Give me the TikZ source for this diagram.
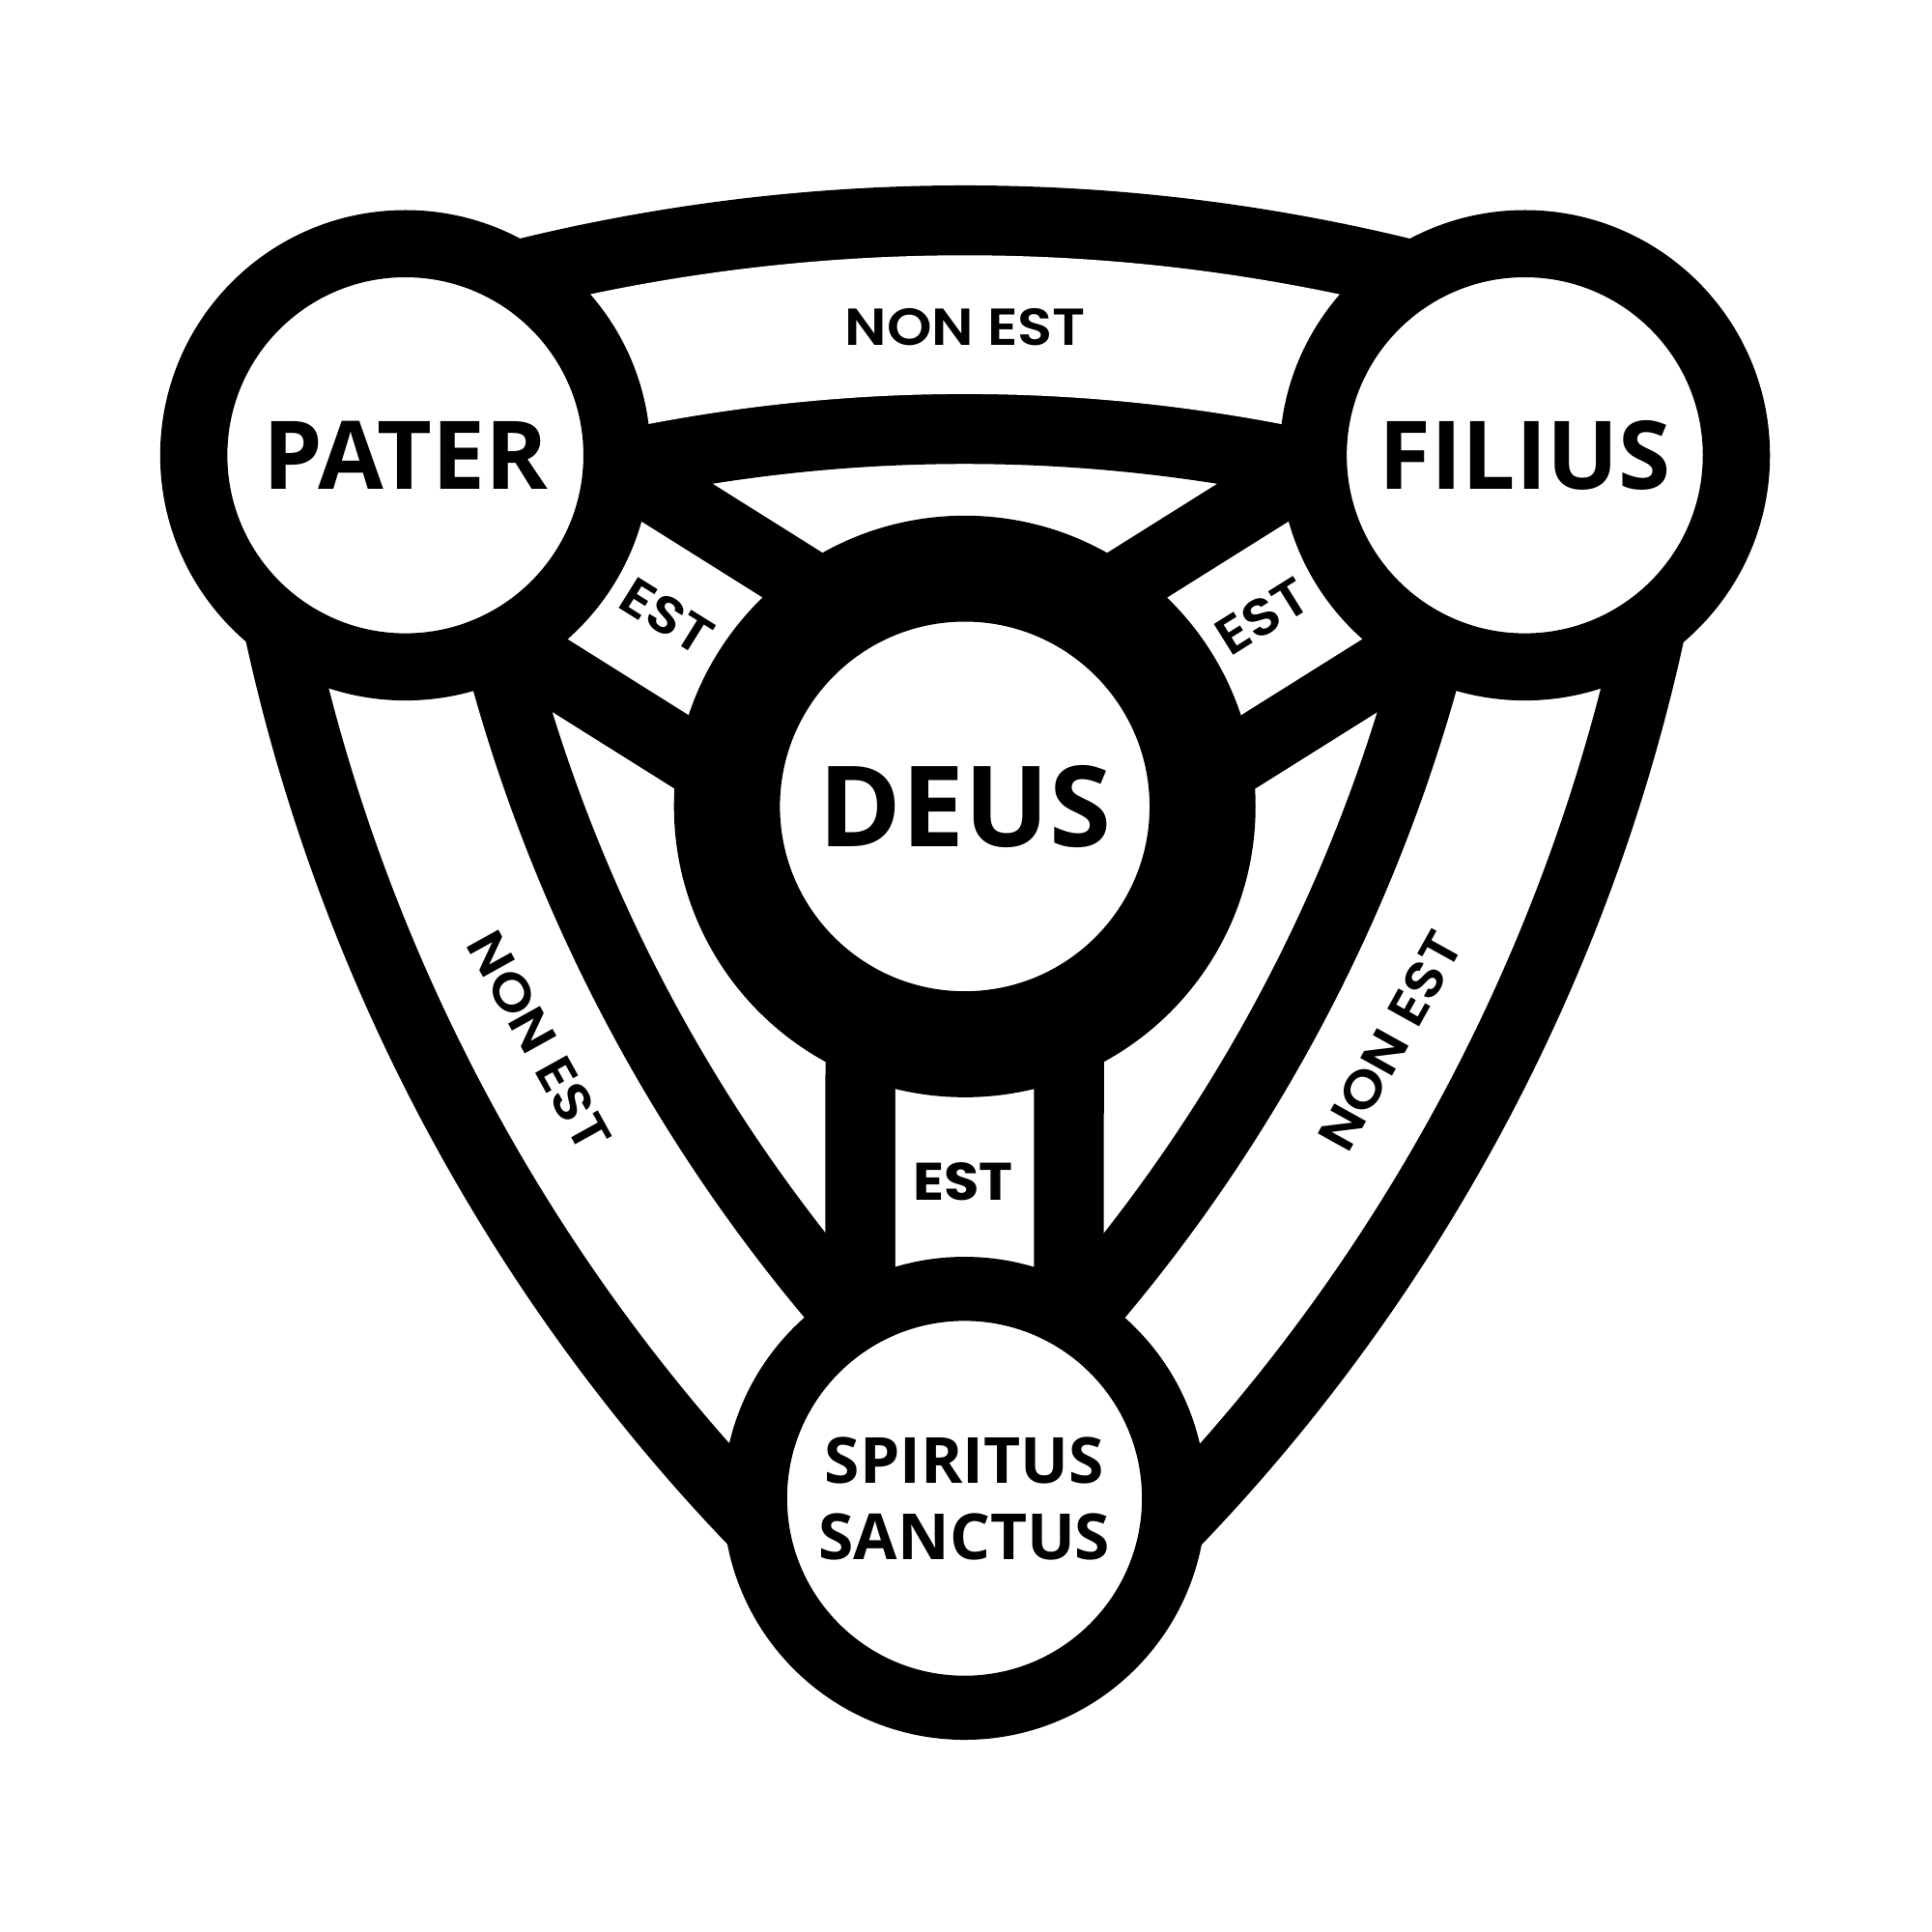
\documentclass[tikz,border=0pt]{standalone}
\usepackage{fontspec}
\newfontfamily\namefont{Open Sans}
\newfontfamily\labfont{Poppins}[UprightFont=* SemiBold, BoldFont=* Bold]
\usetikzlibrary{backgrounds}
\begin{document}
\begin{tikzpicture}[x=0.1mm,y=-0.1mm,
  ring/.style={circle, draw=black, fill=white, inner sep=0pt, align=center},
  bandblack/.style={line width=22.6mm, black},
  bandwhite/.style={line width=11.26mm, white},
  bigname/.style={font=\namefont\bfseries\fontsize{21.9}{24}\selectfont},
  lab/.style={font=\labfont\fontsize{12}{14}\selectfont, inner sep=0pt},
  outerbend/.style={looseness=0.877}]
\useasboundingbox (0,0) rectangle (1568,1568);

% circles (nodes)
\node[ring, minimum size=34.35mm, line width=5.45mm, bigname] (pater) at (329,369.5) {PATER};
\node[ring, minimum size=34.35mm, line width=5.45mm, bigname] (filius) at (1237.5,369.5) {FILIUS};
\node[ring, minimum size=38.6mm, line width=8.6mm, font=\namefont\bfseries\fontsize{25.9}{28}\selectfont] (deus) at (783,654.5) {DEUS};
\node[ring, minimum size=34mm, line width=5.2mm, font=\namefont\bfseries\fontsize{14.7}{17.6}\selectfont] (spiritus) at (782.8,1216) {SPIRITUS\\SANCTUS};

% band end points
\coordinate (pT) at (319.3,341.4);
\coordinate (fT) at (1246.7,341.4);
\coordinate (pL) at (288.8,374.7);
\coordinate (sL) at (751.2,1251.5);
\coordinate (fR) at (1277.2,374.7);
\coordinate (sR) at (814.8,1251.5);

\begin{scope}[on background layer]
  \fill[white] (0,0) rectangle (1568,1568);
  % black bands
  \draw[bandblack] (pT) to[bend left=19.12, outerbend] (fT);
  \draw[bandblack] (pL) to[bend right=20.49, outerbend] (sL);
  \draw[bandblack] (fR) to[bend left=20.49, outerbend] (sR);
  \draw[bandblack] (pater.center) -- (deus.center);
  \draw[bandblack] (filius.center) -- (deus.center);
  \draw[bandblack] (deus.center) -- (spiritus.center);
  % white inner strips
  \draw[bandwhite] (pT) to[bend left=19.12, outerbend] (fT);
  \draw[bandwhite] (pL) to[bend right=20.49, outerbend] (sL);
  \draw[bandwhite] (fR) to[bend left=20.49, outerbend] (sR);
  \draw[bandwhite] (pater.center) -- (deus.center);
  \draw[bandwhite] (filius.center) -- (deus.center);
  \draw[bandwhite] (deus.center) -- (spiritus.center);
\end{scope}

% labels
\node[lab] (nePF) at (783.4,265.4) {\scalebox{1.1}[1]{NON EST}};
\node[lab, rotate=-61] (nePS) at (437.5,845) {\scalebox{1.1}[1]{NON EST}};
\node[lab, rotate=61] (neFS) at (1128.5,845) {\scalebox{1.1}[1]{NON EST}};
\node[lab, rotate=-32] (estP) at (541.4,500.2) {\scalebox{1.1}[1]{EST}};
\node[lab, rotate=32] (estF) at (1024.6,500.2) {\scalebox{1.1}[1]{EST}};
\node[lab, font=\labfont\bfseries\fontsize{12.2}{14}\selectfont] (estS) at (781.7,959) {\scalebox{1.08}[1]{EST}};
\end{tikzpicture}
\end{document}
